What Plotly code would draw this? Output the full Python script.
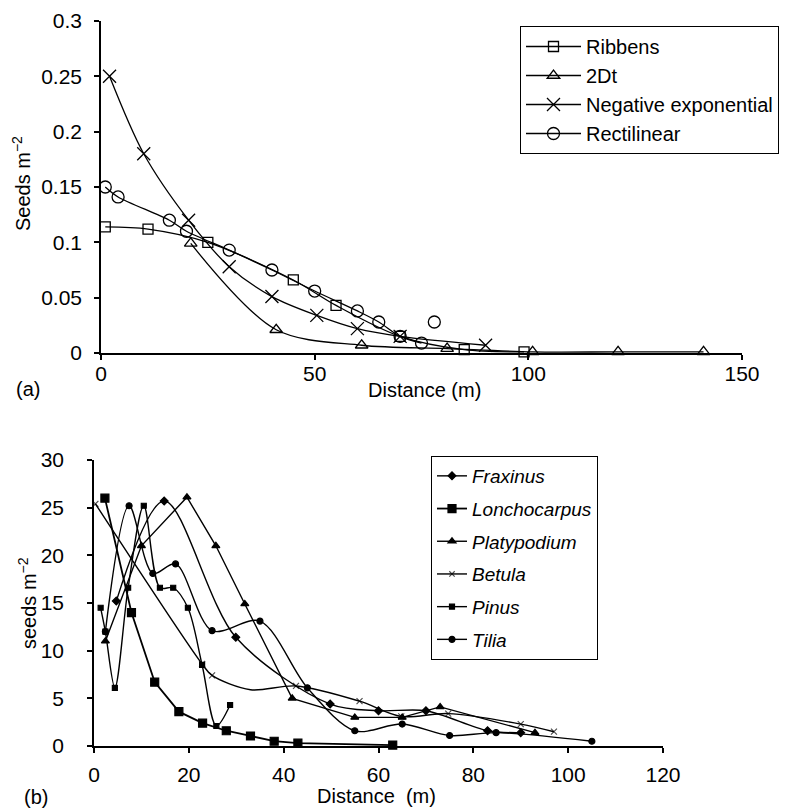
import plotly.graph_objects as go

# ---------------- panel (a) data ----------------
ribbens_x = [1, 11, 25, 45, 55, 70, 85, 99]
ribbens_y = [0.114, 0.112, 0.100, 0.066, 0.043, 0.015, 0.003, 0.001]

dt2_x = [21, 41, 61, 81, 101, 121, 141]
dt2_y = [0.099, 0.021, 0.007, 0.004, 0.001, 0.001, 0.001]

negexp_x = [2, 10, 20.5, 30, 40, 50.5, 60, 70, 90]
negexp_y = [0.250, 0.180, 0.120, 0.078, 0.051, 0.034, 0.022, 0.015, 0.007]

rect_x = [1, 4, 16, 20, 30, 40, 50, 60, 65, 70, 75]
rect_y = [0.150, 0.141, 0.120, 0.110, 0.093, 0.075, 0.056, 0.038, 0.028, 0.015, 0.009]
rect_extra_x = [78]
rect_extra_y = [0.028]

# ---------------- panel (b) data ----------------
fraxinus_x = [4.7, 14.8, 29.9, 49.8, 60, 70, 83, 90]
fraxinus_y = [15.2, 25.7, 11.4, 4.4, 3.7, 3.7, 1.6, 1.4]

loncho_x = [2.3, 7.9, 12.8, 17.9, 22.9, 27.9, 33, 38, 43, 63]
loncho_y = [26, 14, 6.7, 3.6, 2.4, 1.6, 1.05, 0.5, 0.3, 0.1]

platy_x = [2.4, 10, 19.6, 25.7, 31.8, 41.8, 55, 65, 73, 93]
platy_y = [11, 21, 26.1, 21, 14.9, 5, 3, 3, 4.1, 1.4]

betula_x = [0.3, 22.8, 24.9, 33, 42.6, 56, 64.8, 74.7, 90, 97]
betula_y = [25.4, 8.6, 7.4, 5.9, 6.3, 4.7, 3.1, 3.4, 2.3, 1.5]

pinus_x = [1.4, 2.4, 4.4, 7.2, 10.5, 13.9, 16.7, 19.8, 22.8, 25.8, 28.7]
pinus_y = [14.5, 12, 6.1, 16.6, 25.2, 16.6, 16.6, 14.5, 8.5, 2.1, 4.3]

tilia_x = [2.4, 7.4, 12.4, 17.2, 24.9, 35, 45, 55, 65, 75, 84.8, 105]
tilia_y = [12, 25.2, 18.1, 19.1, 12.1, 13.1, 6.1, 1.6, 2.3, 1.1, 1.4, 0.5]

FONT = "Liberation Sans, Arial, sans-serif"
W, H = 789, 810

fig = go.Figure()

def top_trace(x, y, name, symbol, size, mode="lines+markers", show=True):
    fig.add_trace(go.Scatter(
        x=x, y=y, name=name, mode=mode, xaxis="x", yaxis="y",
        line=dict(color="black", width=1.3, shape="spline", smoothing=0.9),
        marker=dict(symbol=symbol, size=size, color="black",
                    line=dict(color="black", width=1.3)),
        cliponaxis=False, showlegend=show, legend="legend",
        legendgroup=name,
    ))

top_trace(ribbens_x, ribbens_y, "Ribbens", "square-open", 10)
top_trace(dt2_x, dt2_y, "2Dt", "triangle-up-open", 11)
top_trace(negexp_x, negexp_y, "Negative exponential", "x-thin-open", 13)
top_trace(rect_x, rect_y, "Rectilinear", "circle-open", 12)
top_trace(rect_extra_x, rect_extra_y, "Rectilinear", "circle-open", 12,
          mode="markers", show=False)

def bot_trace(x, y, name, symbol, size, shape="spline", width=1.4, mlist=None):
    fig.add_trace(go.Scatter(
        x=x, y=y, name="<i>%s</i>" % name, mode="lines+markers",
        xaxis="x2", yaxis="y2",
        line=dict(color="black", width=width, shape=shape, smoothing=0.9),
        marker=dict(symbol=symbol, size=size if mlist is None else mlist,
                    color="black", line=dict(color="black", width=1.2)),
        cliponaxis=False, legend="legend2", legendgroup=name,
    ))

bot_trace(fraxinus_x, fraxinus_y, "Fraxinus", "diamond", 6)
bot_trace(loncho_x, loncho_y, "Lonchocarpus", "square", 8, shape="linear", width=1.8)
bot_trace(platy_x, platy_y, "Platypodium", "triangle-up", 7, shape="linear")
# the 33 m Betula point is a curve vertex without a visible marker
bot_trace(betula_x, betula_y, "Betula", "x-thin-open", 6,
          mlist=[6, 6, 6, 0, 6, 6, 6, 6, 6, 6])
bot_trace(pinus_x, pinus_y, "Pinus", "square", 5)
bot_trace(tilia_x, tilia_y, "Tilia", "circle", 6)

axis_common = dict(
    showline=True, linecolor="black", linewidth=1.5, ticks="outside",
    ticklen=5, tickwidth=1.5, tickcolor="black", showgrid=False,
    zeroline=False, tickfont=dict(family=FONT, size=21, color="black"),
)

fig.update_layout(
    width=W, height=H,
    margin=dict(l=0, r=0, t=0, b=0, autoexpand=False),
    paper_bgcolor="white", plot_bgcolor="white",
    font=dict(family=FONT, size=19, color="black"),
    xaxis=dict(domain=[93 / W, 734 / W], range=[0, 150], dtick=50,
               anchor="y", ticklabelstandoff=-4, **axis_common),
    yaxis=dict(domain=[1 - 345 / H, 1 - 13 / H], range=[0, 0.3], dtick=0.05,
               anchor="x", ticklabelstandoff=8, **axis_common),
    xaxis2=dict(domain=[86 / W, 655 / W], range=[0, 120], dtick=20,
                anchor="y2", ticklabelstandoff=4, **axis_common),
    yaxis2=dict(domain=[1 - 738 / H, 1 - 452 / H], range=[0, 30], dtick=5,
                anchor="x2", ticklabelstandoff=19, **axis_common),
    legend=dict(x=512 / W, y=1 - 18 / H, xanchor="left", yanchor="top",
                bordercolor="black", borderwidth=1, bgcolor="white",
                font=dict(family=FONT, size=20, color="black"),
                traceorder="grouped", tracegroupgap=0, itemwidth=55),
    legend2=dict(x=423 / W, y=1 - 448 / H, xanchor="left", yanchor="top",
                 bordercolor="black", borderwidth=1, bgcolor="white",
                 font=dict(family=FONT, size=19, color="black"),
                 traceorder="grouped", tracegroupgap=5, itemwidth=30),
)

def ann(text, px, py, angle=0):
    fig.add_annotation(text=text, x=px / W, y=1 - py / H, xref="paper",
                       yref="paper", showarrow=False, textangle=angle,
                       font=dict(family=FONT, size=20, color="black"),
                       xanchor="center", yanchor="middle", borderpad=0)

ann("Seeds m<sup>\u22122</sup>", 14, 176, -90)
ann("(a)", 20, 381)
ann("Distance (m)", 416, 382)
ann("seeds m<sup>\u22122</sup>", 19, 595, -90)
ann("(b)", 28, 789)
ann("Distance&nbsp; (m)", 368, 788)

fig.write_html("out.html")
